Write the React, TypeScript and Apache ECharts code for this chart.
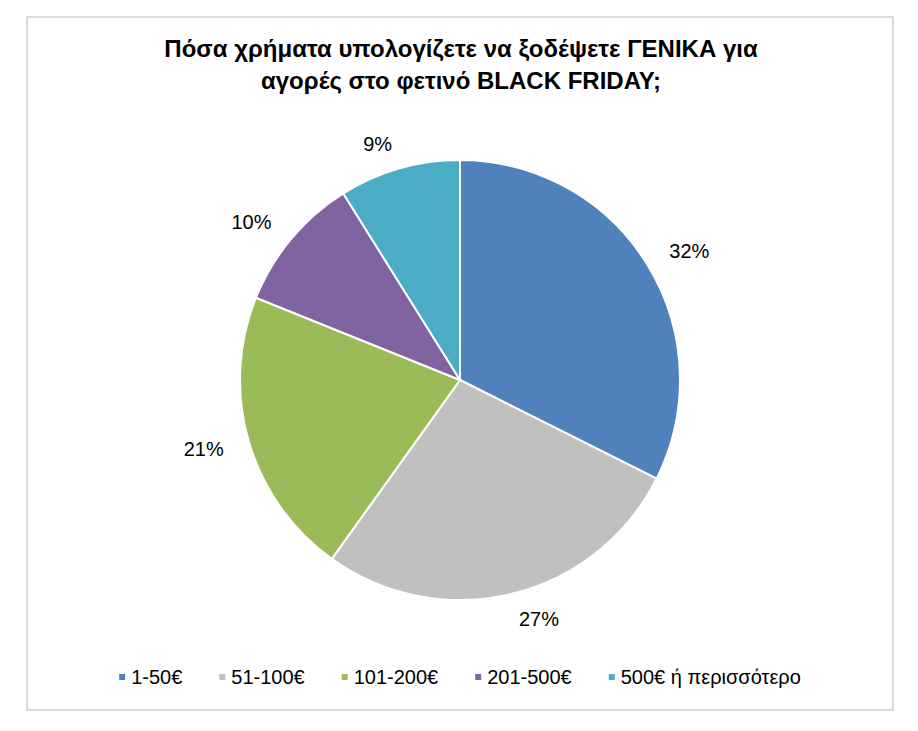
import React, { useEffect, useRef } from "react";
import * as echarts from "echarts";

const titleText = "Πόσα χρήματα υπολογίζετε να ξοδέψετε ΓΕΝΙΚΑ για\nαγορές στο φετινό BLACK FRIDAY;";
const categories = ["1-50€", "51-100€", "101-200€", "201-500€", "500€ ή περισσότερο"];
const shares = [32.4, 27.5, 21.2, 10.0, 8.9];
const percentLabels = ["32%", "27%", "21%", "10%", "9%"];
const colors = ["#4F81BD", "#C0C0C0", "#9BBB59", "#8064A2", "#4BACC6"];

const FONT = "'Liberation Sans Narrow', 'Arial Narrow', 'Liberation Sans', Arial, sans-serif";

export default function App() {
  const ref = useRef<HTMLDivElement>(null);
  useEffect(() => {
    if (!ref.current) return;
    const chart = echarts.init(ref.current, null, { renderer: "svg" });
    const data = categories.map((name, i) => ({ name, value: shares[i] }));
    chart.setOption({
      animation: false,
      backgroundColor: "#FFFFFF",
      color: colors,
      title: {
        text: titleText,
        left: 461,
        textAlign: "center",
        top: 32,
        padding: 0,
        textStyle: {
          fontFamily: FONT,
          fontSize: 24,
          fontWeight: "bold",
          color: "#000000",
          lineHeight: 32,
        },
      },
      legend: {
        data: categories,
        left: "center",
        top: 667,
        padding: 0,
        icon: "rect",
        itemWidth: 8,
        itemHeight: 8,
        itemGap: 35,
        textStyle: { fontFamily: FONT, fontSize: 20, color: "#000000" },
      },
      graphic: [
        {
          type: "rect",
          shape: { x: 27, y: 17, width: 866, height: 693 },
          style: { fill: "none", stroke: "#D9D9D9", lineWidth: 2 },
          silent: true,
        },
      ],
      series: [
        {
          type: "pie",
          center: [460, 380],
          radius: [0, 220],
          startAngle: 90,
          clockwise: true,
          avoidLabelOverlap: false,
          data,
          itemStyle: { borderColor: "#FFFFFF", borderWidth: 2 },
          label: {
            show: true,
            position: "outside",
            formatter: (p: any) => percentLabels[p.dataIndex],
            fontFamily: FONT,
            fontSize: 20,
            color: "#000000",
            distanceToLabelLine: 0,
          },
          labelLine: { show: false, length: 26, length2: 0 },
          emphasis: { disabled: true },
        },
      ],
    });
    return () => chart.dispose();
  }, []);
  return (
    <div
      ref={ref}
      style={{ position: "absolute", left: 0, top: 0, width: 918, height: 731 }}
    />
  );
}
